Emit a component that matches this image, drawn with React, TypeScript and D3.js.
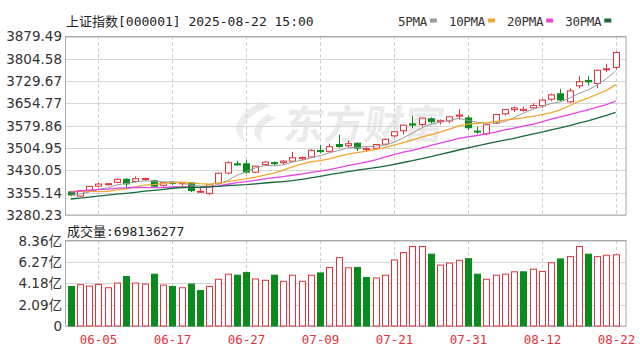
import React, { useEffect, useRef } from "react";
import * as d3 from "d3";

// trading days shown (2025)
const dates = [
  "05-30", "06-03", "06-04", "06-05", "06-06", "06-09", "06-10", "06-11", "06-12", "06-13",
  "06-16", "06-17", "06-18", "06-19", "06-20", "06-23", "06-24", "06-25", "06-26", "06-27",
  "06-30", "07-01", "07-02", "07-03", "07-04", "07-07", "07-08", "07-09", "07-10", "07-11",
  "07-14", "07-15", "07-16", "07-17", "07-18", "07-21", "07-22", "07-23", "07-24", "07-25",
  "07-28", "07-29", "07-30", "07-31", "08-01", "08-04", "08-05", "08-06", "08-07", "08-08",
  "08-11", "08-12", "08-13", "08-14", "08-15", "08-18", "08-19", "08-20", "08-21", "08-22",
];
const opens = [
  3358, 3343.6, 3363, 3377, 3382, 3390, 3400, 3393, 3400, 3395,
  3380, 3390, 3385, 3388, 3357, 3352, 3387, 3421, 3452, 3452,
  3424, 3450, 3456, 3456, 3461, 3469, 3475, 3497, 3494, 3517,
  3513, 3521, 3500, 3504, 3518, 3546, 3563, 3586, 3584, 3603,
  3593, 3596, 3612, 3606, 3562, 3553, 3589, 3620, 3634, 3631,
  3640, 3647, 3669, 3687, 3660, 3714, 3732, 3722, 3768, 3776,
];
const highs = [
  3361, 3365, 3378, 3388, 3387, 3403, 3404, 3410, 3406, 3398,
  3392, 3394, 3392, 3391, 3370, 3383, 3423, 3460, 3462, 3466,
  3446, 3461, 3460, 3465, 3492, 3477, 3500, 3515, 3520, 3550,
  3530, 3524, 3508, 3518, 3537, 3561, 3583, 3613, 3607, 3608,
  3601, 3611, 3636, 3614, 3576, 3585, 3618, 3636, 3645, 3644,
  3656, 3668, 3688, 3704, 3705, 3746, 3746, 3768, 3788, 3829,
];
const lows = [
  3343, 3342, 3361, 3374, 3379, 3387, 3371, 3389, 3395, 3373,
  3376, 3381, 3378, 3357, 3355, 3348, 3386, 3417, 3446, 3419,
  3421, 3445, 3446, 3449, 3458, 3463, 3473, 3487, 3490, 3505,
  3506, 3495, 3492, 3500, 3513, 3540, 3550, 3572, 3578, 3587,
  3584, 3588, 3600, 3565, 3553, 3548, 3586, 3614, 3626, 3628,
  3636, 3640, 3662, 3662, 3656, 3705, 3715, 3706, 3760, 3768,
];
const closes = [
  3347.49, 3361.98, 3376.2, 3384.1, 3385.36, 3399.77, 3384.82, 3402.32, 3402.66, 3377.0,
  3388.73, 3387.4, 3388.81, 3362.11, 3359.9, 3381.58, 3420.57, 3455.97, 3448.45, 3424.23,
  3444.43, 3457.75, 3454.79, 3461.15, 3472.32, 3473.13, 3497.48, 3493.05, 3509.68, 3510.18,
  3519.65, 3505.0, 3503.78, 3516.83, 3534.48, 3559.79, 3581.86, 3582.3, 3605.73, 3593.66,
  3597.94, 3609.71, 3615.72, 3573.21, 3559.95, 3583.31, 3617.6, 3633.99, 3639.67, 3635.13,
  3647.55, 3665.92, 3683.46, 3666.44, 3696.77, 3728.03, 3727.29, 3766.21, 3771.1, 3825.76,
];
// closes before the window (04-16 .. 05-29), needed for the moving averages
const priorCloses = [
  3276.0, 3280.34, 3276.73, 3291.43, 3299.76, 3296.36, 3297.29, 3295.06, 3288.41, 3286.65,
  3279.03, 3316.11, 3342.67, 3352.0, 3342.0, 3369.24, 3374.87, 3403.95, 3380.82, 3367.46,
  3367.58, 3380.48, 3387.57, 3380.19, 3348.37, 3346.84, 3340.69, 3339.93, 3363.45,
];
// volume in 亿
const volumes = [
  3.88, 4.05, 3.91, 4.08, 3.75, 4.21, 4.85, 4.21, 4.11, 5.08,
  4.01, 3.88, 3.75, 4.11, 3.48, 3.88, 4.58, 5.08, 4.98, 5.25,
  4.61, 4.48, 4.98, 4.38, 4.98, 4.38, 4.98, 5.2, 5.74, 6.7,
  5.7, 5.74, 4.75, 4.71, 4.98, 6.47, 7.2, 7.79, 7.79, 7.04,
  5.97, 6.17, 6.44, 6.6, 5.08, 4.58, 4.98, 5.08, 5.31, 5.31,
  5.57, 5.34, 6.2, 6.57, 6.8, 7.79, 7.04, 6.8, 6.94, 6.98,
];
const priceTicks = [3280.23, 3355.14, 3430.05, 3504.95, 3579.86, 3654.77, 3729.67, 3804.58, 3879.49];
const volumeTicks = [0, 2.09, 4.18, 6.27, 8.36];
const volumeTickLabels = ["0", "2.09亿", "4.18亿", "6.27亿", "8.36亿"];
const dateTicks = ["06-05", "06-17", "06-27", "07-09", "07-21", "07-31", "08-12", "08-22"];
const maPeriods = [5, 10, 20, 30];
const maNames = ["5PMA", "10PMA", "20PMA", "30PMA"];
const maColors = ["#9a9a9a", "#f0a830", "#e244e6", "#17683d"];
const title = "上证指数[000001] 2025-08-22 15:00";
const volumeTitle = "成交量:698136277";

const RED = "#e3323c";
const GREEN = "#0b8a1e";
const MONO = "'DejaVu Sans Mono', 'Noto Sans CJK SC', monospace";
const SANS = "'DejaVu Sans', 'Noto Sans CJK SC', sans-serif";

export default function App() {
  const ref = useRef<SVGSVGElement>(null);

  useEffect(() => {
    const svg = d3.select(ref.current);
    svg.selectAll("*").remove();

    const left = 65.5, right = 626;
    const x = d3.scalePoint<string>().domain(dates).range([70.7, 615.7]);
    const y = d3.scaleLinear().domain([3280.23, 3879.49]).range([215, 36.5]);
    const yv = d3.scaleLinear().domain([0, 8.36]).range([326, 240.7]);

    // moving averages
    const allCloses = priorCloses.concat(closes);
    const off = priorCloses.length;
    const maSeries = maPeriods.map((n) =>
      closes.map((_, i) => d3.mean(allCloses.slice(off + i - n + 1, off + i + 1)) as number)
    );

    // title + legend
    svg.append("text").attr("x", 66).attr("y", 26).attr("font-family", MONO)
      .attr("font-size", 13).attr("fill", "#222").text(title);

    let lx = 398;
    maNames.forEach((name, k) => {
      const t = svg.append("text").attr("x", lx).attr("y", 26).attr("font-family", MONO)
        .attr("font-size", 12.5).attr("fill", "#333").attr("letter-spacing", -0.3).text(name);
      const w = (t.node() as SVGTextElement).getComputedTextLength();
      svg.append("rect").attr("x", lx + w + 3).attr("y", 18.5).attr("width", 7).attr("height", 4)
        .attr("fill", maColors[k]);
      lx += w + 22;
    });

    // watermark
    const wm = svg.append("g").attr("opacity", 0.09);
    wm.append("path")
      .attr("d", "M262,102 C236,112 228,134 246,142 C238,130 244,116 270,106 Z M268,114 C252,124 250,136 262,142 C258,132 262,124 276,118 Z")
      .attr("fill", "#333");
    wm.append("text").attr("x", 283).attr("y", 139).attr("font-family", SANS)
      .attr("font-size", 40).attr("font-weight", "bold").attr("fill", "#222")
      .attr("transform", "skewX(-8) translate(19,0)").text("东方财富");

    // price panel grid
    const grid = svg.append("g");
    priceTicks.forEach((v) => {
      grid.append("line").attr("x1", left).attr("x2", right)
        .attr("y1", Math.round(y(v)) + 0.5).attr("y2", Math.round(y(v)) + 0.5)
        .attr("stroke", "#d6d6d6");
      svg.append("text").attr("x", 62).attr("y", y(v)).attr("dy", "0.36em")
        .attr("text-anchor", "end").attr("font-family", SANS).attr("font-size", 13.5)
        .attr("fill", "#333").text(v.toFixed(2));
    });
    volumeTicks.forEach((v, k) => {
      grid.append("line").attr("x1", left).attr("x2", right)
        .attr("y1", Math.round(yv(v)) + 0.5).attr("y2", Math.round(yv(v)) + 0.5)
        .attr("stroke", "#d6d6d6");
      svg.append("text").attr("x", 62).attr("y", yv(v)).attr("dy", "0.36em")
        .attr("text-anchor", "end").attr("font-family", SANS).attr("font-size", 13.5)
        .attr("fill", "#333").text(volumeTickLabels[k]);
    });
    dateTicks.forEach((d) => {
      const xx = Math.round(x(d) as number) + 0.5;
      grid.append("line").attr("x1", xx).attr("x2", xx).attr("y1", y.range()[1]).attr("y2", y.range()[0])
        .attr("stroke", "#c8c8c8").attr("stroke-dasharray", "3,3");
      grid.append("line").attr("x1", xx).attr("x2", xx).attr("y1", yv.range()[1]).attr("y2", yv.range()[0])
        .attr("stroke", "#c8c8c8").attr("stroke-dasharray", "3,3");
      svg.append("text").attr("x", xx).attr("y", 344).attr("text-anchor", "middle")
        .attr("font-family", MONO).attr("font-size", 12.5).attr("fill", RED).text(d);
    });

    // frames
    svg.append("rect").attr("x", left).attr("y", 36.5).attr("width", right - left).attr("height", 215 - 36.5)
      .attr("fill", "none").attr("stroke", "#a8a8a8");
    svg.append("rect").attr("x", left).attr("y", 240.5).attr("width", right - left).attr("height", 326 - 240.5)
      .attr("fill", "none").attr("stroke", "#a8a8a8");

    svg.append("text").attr("x", 67).attr("y", 236).attr("font-family", MONO)
      .attr("font-size", 13).attr("fill", "#222").text(volumeTitle);

    // candles
    const bw = 6;
    const candles = svg.append("g");
    dates.forEach((d, i) => {
      const cx = Math.round(x(d) as number) + 0.5;
      const up = closes[i] >= opens[i];
      const col = up ? RED : GREEN;
      candles.append("line").attr("x1", cx).attr("x2", cx)
        .attr("y1", y(highs[i])).attr("y2", y(lows[i])).attr("stroke", col);
      const top = y(Math.max(opens[i], closes[i]));
      const bot = y(Math.min(opens[i], closes[i]));
      candles.append("rect").attr("x", cx - bw / 2).attr("y", top)
        .attr("width", bw).attr("height", Math.max(1, bot - top))
        .attr("fill", up ? "#fff" : GREEN).attr("stroke", col);
    });

    // moving average lines
    maSeries.forEach((s, k) => {
      svg.append("path").datum(s)
        .attr("fill", "none").attr("stroke", maColors[k]).attr("stroke-width", k === 0 ? 1 : 1.3)
        .attr("d", d3.line<number>()
          .x((_, i) => x(dates[i]) as number)
          .y((v) => y(v)));
    });

    // volume bars, coloured by change vs previous close
    const vol = svg.append("g");
    dates.forEach((d, i) => {
      const cx = Math.round(x(d) as number) + 0.5;
      const prev = i === 0 ? priorCloses[priorCloses.length - 1] : closes[i - 1];
      const up = closes[i] >= prev;
      vol.append("rect").attr("x", cx - bw / 2).attr("y", yv(volumes[i]))
        .attr("width", bw).attr("height", yv(0) - yv(volumes[i]))
        .attr("fill", up ? "#fff" : GREEN).attr("stroke", up ? RED : GREEN);
    });
  }, []);

  return (
    <svg ref={ref} width={640} height={354}
      style={{ position: "absolute", left: 0, top: 0, background: "#fff" }} />
  );
}
